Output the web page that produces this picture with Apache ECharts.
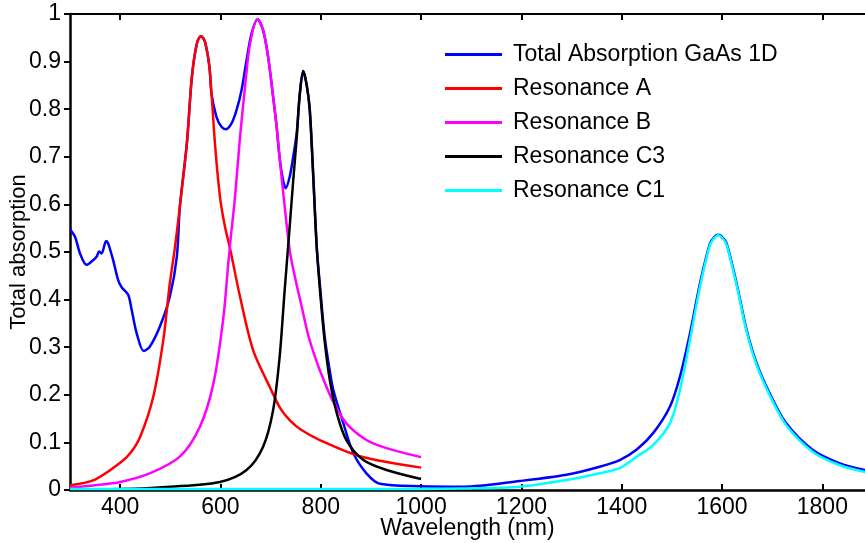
<!DOCTYPE html>
<html>
<head>
<meta charset="utf-8">
<script src="https://cdn.jsdelivr.net/npm/echarts@6/dist/echarts.min.js"></script>
<style>
  html, body { margin: 0; padding: 0; background: #fff; }
  #chart { width: 865px; height: 543px; }
</style>
</head>
<body>
<div id="chart"></div>
<script>
// values (wavelength in nm, absorption 0..1)
const totalX = [300, 310, 320, 333, 343, 353, 358, 363, 372, 376, 386, 396, 403, 416, 423, 433, 447, 459, 479, 499, 513, 519, 533, 543, 553, 561, 569, 578, 582, 592, 602, 611, 622, 632, 642, 652, 662, 674, 685, 695, 705, 712, 718, 724, 730, 738, 745, 752, 758, 765, 772, 778, 785, 792, 800, 808, 818, 825, 845, 865, 891, 918, 998, 1084, 1197, 1290, 1356, 1396, 1430, 1463, 1496, 1516, 1536, 1556, 1576, 1585, 1592, 1600, 1609, 1629, 1649, 1669, 1695, 1728, 1781, 1835, 1885]
const totalY = [0.548, 0.532, 0.497, 0.473, 0.480, 0.490, 0.501, 0.497, 0.523, 0.518, 0.483, 0.441, 0.426, 0.410, 0.378, 0.329, 0.292, 0.301, 0.343, 0.406, 0.490, 0.595, 0.728, 0.868, 0.938, 0.954, 0.942, 0.889, 0.833, 0.784, 0.763, 0.758, 0.770, 0.798, 0.840, 0.903, 0.959, 0.989, 0.966, 0.910, 0.826, 0.763, 0.697, 0.655, 0.634, 0.658, 0.700, 0.750, 0.830, 0.880, 0.850, 0.800, 0.660, 0.510, 0.410, 0.320, 0.250, 0.210, 0.140, 0.077, 0.035, 0.013, 0.008, 0.007, 0.019, 0.032, 0.049, 0.063, 0.085, 0.120, 0.175, 0.238, 0.329, 0.434, 0.518, 0.532, 0.536, 0.532, 0.518, 0.434, 0.336, 0.266, 0.203, 0.140, 0.084, 0.056, 0.042]

const resAX = [300, 350, 400, 420, 440, 466, 486, 499, 509, 519, 533, 543, 553, 561, 569, 578, 589, 599, 609, 619, 639, 665, 699, 719, 738, 760, 798, 878, 1000]
const resAY = [0.010, 0.022, 0.057, 0.077, 0.112, 0.196, 0.315, 0.434, 0.508, 0.595, 0.728, 0.868, 0.938, 0.954, 0.942, 0.889, 0.728, 0.616, 0.553, 0.508, 0.406, 0.294, 0.215, 0.172, 0.147, 0.127, 0.105, 0.071, 0.047]

const resBX = [300, 350, 400, 459, 519, 559, 586, 606, 615, 620, 629, 639, 649, 659, 674, 685, 695, 705, 712, 718, 738, 750, 762, 775, 790, 805, 825, 851, 891, 931, 1000]
const resBY = [0.005, 0.010, 0.017, 0.035, 0.070, 0.133, 0.224, 0.364, 0.469, 0.525, 0.616, 0.742, 0.847, 0.938, 0.989, 0.966, 0.910, 0.826, 0.763, 0.697, 0.504, 0.440, 0.385, 0.325, 0.275, 0.233, 0.185, 0.140, 0.105, 0.088, 0.069]

const resC3X = [300, 400, 499, 599, 652, 685, 705, 718, 728, 737, 745, 752, 758, 765, 772, 778, 785, 792, 800, 808, 818, 832, 851, 885, 931, 1000]
const resC3Y = [0.001, 0.002, 0.007, 0.017, 0.042, 0.091, 0.168, 0.280, 0.420, 0.540, 0.650, 0.740, 0.830, 0.880, 0.850, 0.798, 0.658, 0.508, 0.400, 0.310, 0.231, 0.161, 0.105, 0.063, 0.042, 0.023]

const resC1X = [300, 1000, 1084, 1197, 1290, 1356, 1396, 1430, 1463, 1496, 1516, 1536, 1556, 1576, 1585, 1592, 1600, 1609, 1629, 1649, 1669, 1695, 1728, 1781, 1835, 1885]
const resC1Y = [0.002, 0.002, 0.003, 0.007, 0.021, 0.035, 0.046, 0.070, 0.095, 0.140, 0.210, 0.315, 0.427, 0.515, 0.530, 0.535, 0.530, 0.515, 0.430, 0.332, 0.262, 0.199, 0.136, 0.080, 0.052, 0.038]

const xTicks = [400, 600, 800, 1000, 1200, 1400, 1600, 1800]

const seriesNames = ['Total Absorption GaAs 1D', 'Resonance A', 'Resonance B', 'Resonance C3', 'Resonance C1']
const seriesColors = ['#0000ff', '#ff0000', '#ff00ff', '#000000', '#00ffff']

const font = 'Liberation Sans, Arial, Helvetica, sans-serif'

function pairs(xs, ys) {
    return xs.map((x, i) => [x, ys[i]])
}

const seriesData = [
    pairs(totalX, totalY),
    pairs(resAX, resAY),
    pairs(resBX, resBY),
    pairs(resC3X, resC3Y),
    pairs(resC1X, resC1Y)
]

const chart = echarts.init(document.getElementById('chart'), null, { renderer: 'canvas' })

const option = {
    animation: false,
    color: seriesColors,
    grid: {
        left: 70,
        right: 0,
        top: 14,
        bottom: 53,
        outerBoundsMode: 'none',
        containLabel: false
    },
    legend: {
        orient: 'vertical',
        left: 445,
        top: 43,
        padding: 0,
        icon: 'rect',
        itemWidth: 57,
        itemHeight: 3,
        itemGap: 11,
        data: seriesNames,
        textStyle: {
            fontFamily: font,
            fontSize: 23,
            color: '#000',
            lineHeight: 23,
            padding: [0, 0, 0, 6]
        }
    },
    xAxis: [{
        type: 'value',
        min: 300,
        max: 1885,
        name: 'Wavelength (nm)',
        nameLocation: 'middle',
        nameGap: 27,
        nameMoveOverlap: false,
        nameTextStyle: {
            fontFamily: font,
            fontSize: 23,
            color: '#000'
        },
        axisLine: {
            show: true,
            lineStyle: { color: '#000', width: 2.5 }
        },
        axisTick: {
            show: true,
            inside: true,
            length: 6,
            customValues: xTicks,
            lineStyle: { color: '#000', width: 2 }
        },
        axisLabel: {
            customValues: xTicks,
            margin: 6,
            fontFamily: font,
            fontSize: 23,
            color: '#000',
            formatter: v => String(v)
        },
        splitLine: { show: false }
    }, {
        type: 'value',
        position: 'top',
        min: 300,
        max: 1885,
        axisLine: {
            show: true,
            onZero: false,
            lineStyle: { color: '#000', width: 2 }
        },
        axisTick: {
            show: true,
            inside: true,
            length: 6,
            customValues: xTicks,
            lineStyle: { color: '#000', width: 2 }
        },
        axisLabel: { show: false },
        splitLine: { show: false }
    }],
    yAxis: {
        type: 'value',
        min: 0,
        max: 1,
        interval: 0.1,
        name: 'Total absorption',
        nameLocation: 'middle',
        nameGap: 40,
        nameMoveOverlap: false,
        nameTextStyle: {
            fontFamily: font,
            fontSize: 22,
            color: '#000'
        },
        axisLine: {
            show: true,
            lineStyle: { color: '#000', width: 2.5 }
        },
        axisTick: {
            show: true,
            length: 6,
            lineStyle: { color: '#000', width: 2 }
        },
        axisLabel: {
            margin: 9,
            fontFamily: font,
            fontSize: 23,
            color: '#000',
            formatter: v => String(Math.round(v * 10) / 10)
        },
        splitLine: { show: false }
    },
    series: seriesNames.map((name, i) => ({
        name: name,
        type: 'line',
        data: seriesData[i],
        showSymbol: false,
        smooth: 0.3,
        lineStyle: { width: 2.5, color: seriesColors[i] },
        z: i + 2
    }))
}

chart.setOption(option)
</script>
</body>
</html>
